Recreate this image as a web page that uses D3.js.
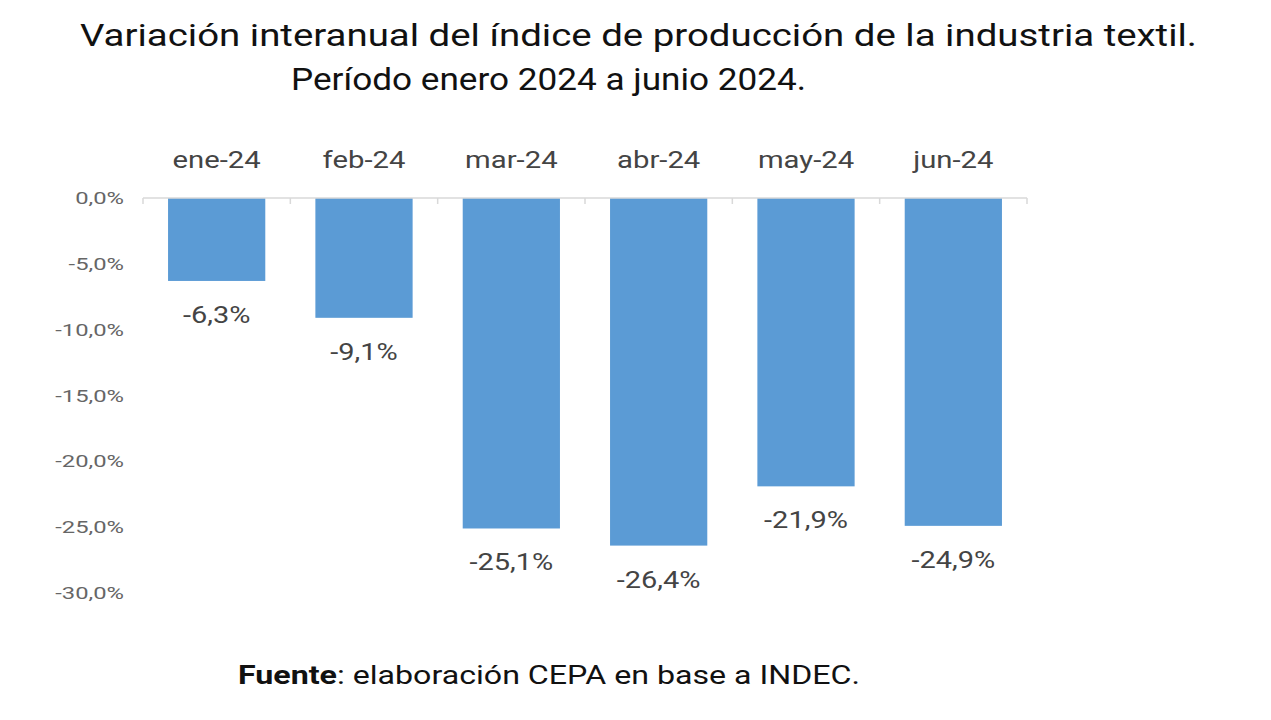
<!DOCTYPE html>
<html>
<head>
<meta charset="utf-8">
<script src="https://cdn.jsdelivr.net/npm/d3@7"></script>
<style>
  body { margin: 0; background: #fff; }
  text { font-family: Roboto, "Noto Sans", sans-serif; }
</style>
</head>
<body>
<svg id="chart" width="1271" height="720"></svg>
<script>
var months = ['ene-24', 'feb-24', 'mar-24', 'abr-24', 'may-24', 'jun-24'];
var values = [-6.3, -9.1, -25.1, -26.4, -21.9, -24.9];
var yTicks = [0, -5, -10, -15, -20, -25, -30];

var svg = d3.select('#chart');
var fmt = function(v) { return v.toFixed(1).replace('.', ',') + '%'; };

var x = d3.scaleBand().domain(months).range([143, 1027]).paddingInner(0.34).paddingOuter(0.17);
var y = d3.scaleLinear().domain([0, -30]).range([198, 593]);

// text in the source image is stretched horizontally
function stretch(sel, sx, xf, yf) {
    sel.attr('x', 0).attr('y', 0)
        .attr('transform', function(d, i) {
            return 'translate(' + xf(d, i) + ',' + yf(d, i) + ') scale(' + sx + ',1)';
        });
}

// titles
svg.append('text').attr('x', 80).attr('y', 46)
    .attr('font-size', 31).attr('fill', '#111')
    .attr('textLength', 1117).attr('lengthAdjust', 'spacingAndGlyphs')
    .text('Variación interanual del índice de producción de la industria textil.');
svg.append('text').attr('x', 291).attr('y', 90)
    .attr('font-size', 31).attr('fill', '#111')
    .attr('textLength', 515).attr('lengthAdjust', 'spacingAndGlyphs')
    .text('Período enero 2024 a junio 2024.');

// y labels
svg.append('g').selectAll('text').data(yTicks).enter().append('text')
    .attr('text-anchor', 'end').attr('font-size', 17).attr('fill', '#666')
    .text(fmt)
    .call(stretch, 1.4, function() { return 124; }, function(d) { return y(d) + 6; });

// bars
svg.append('g').selectAll('rect').data(values).enter().append('rect')
    .attr('x', function(d, i) { return x(months[i]); })
    .attr('y', y(0))
    .attr('width', x.bandwidth())
    .attr('height', function(d) { return y(d) - y(0); })
    .attr('fill', '#5b9bd5');

// axis line with ticks
var ax = svg.append('g').attr('stroke', '#d9d9d9').attr('stroke-width', 1.5);
ax.append('line').attr('x1', 143).attr('x2', 1027).attr('y1', y(0)).attr('y2', y(0));
var edges = months.map(function(m) { return x(m) - x.step() * x.paddingInner() / 2; });
edges.push(1027);
ax.selectAll('line.t').data(edges).enter().append('line').attr('class', 't')
    .attr('x1', function(d) { return d; }).attr('x2', function(d) { return d; })
    .attr('y1', y(0)).attr('y2', y(0) + 6);

// category labels
svg.append('g').selectAll('text').data(months).enter().append('text')
    .attr('text-anchor', 'middle').attr('font-size', 24).attr('fill', '#444')
    .text(function(d) { return d; })
    .call(stretch, 1.22, function(d) { return x(d) + x.bandwidth() / 2; }, function() { return 168; });

// value labels
svg.append('g').selectAll('text').data(values).enter().append('text')
    .attr('text-anchor', 'middle').attr('font-size', 23).attr('fill', '#444')
    .text(fmt)
    .call(stretch, 1.26, function(d, i) { return x(months[i]) + x.bandwidth() / 2; },
        function(d) { return y(d) + 42; });

// source
var src = svg.append('text').attr('x', 238).attr('y', 684)
    .attr('font-size', 25).attr('fill', '#111')
    .attr('textLength', 622).attr('lengthAdjust', 'spacingAndGlyphs');
src.append('tspan').attr('font-weight', 'bold').text('Fuente');
src.append('tspan').text(': elaboración CEPA en base a INDEC.');
</script>
</body>
</html>
